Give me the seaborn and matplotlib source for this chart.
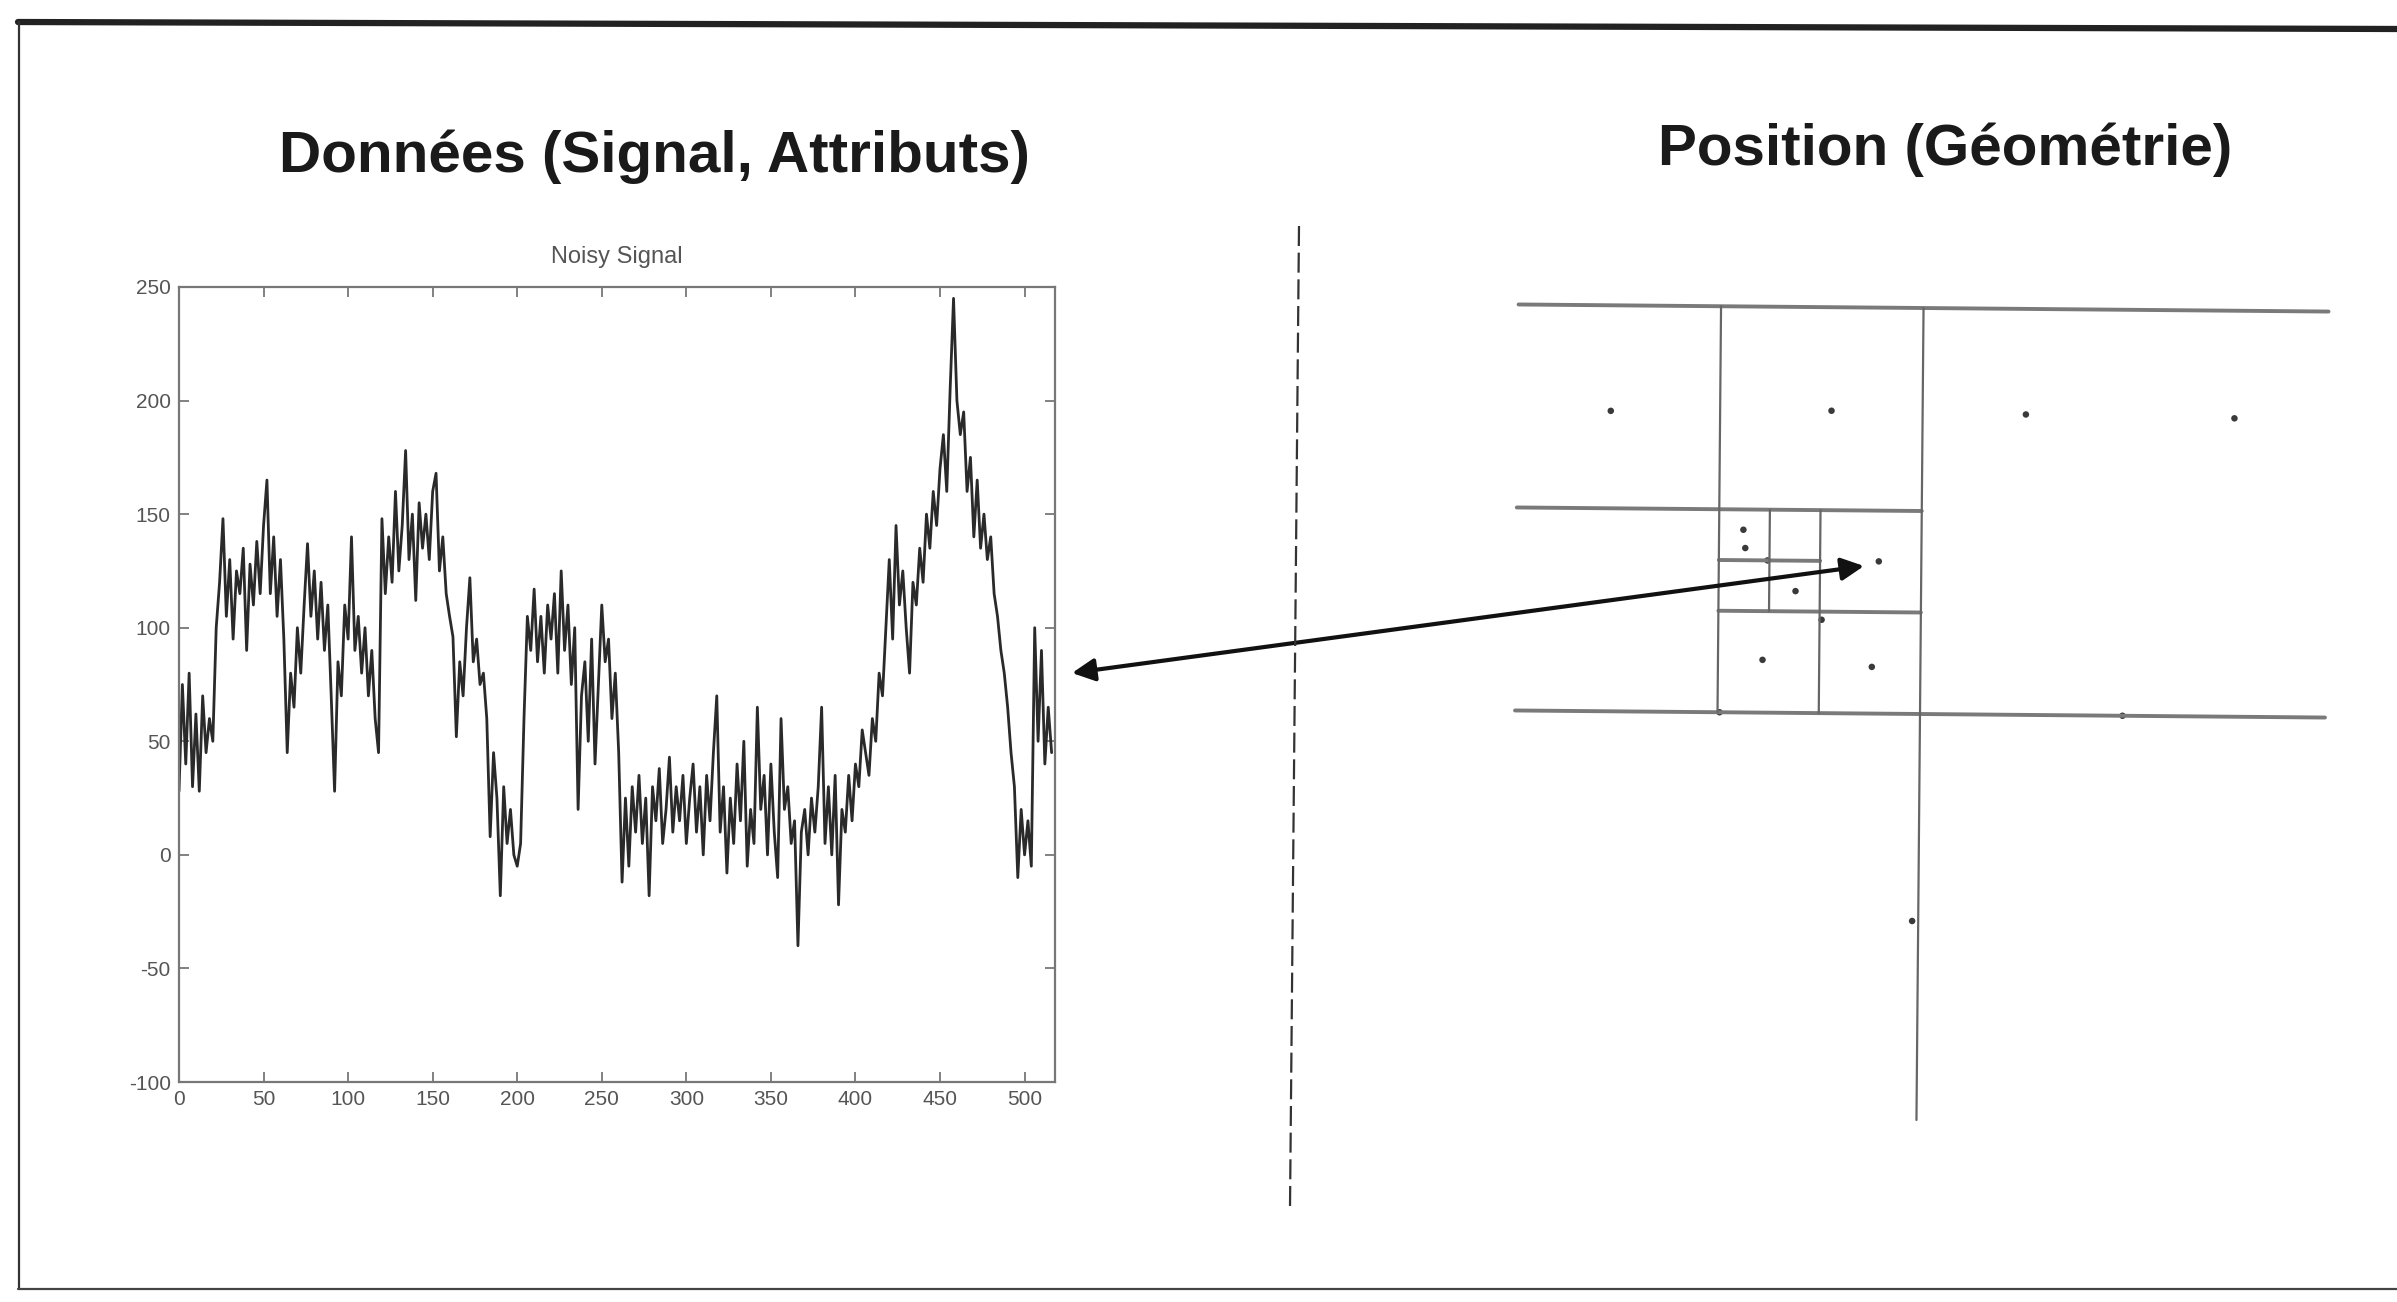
import numpy as np
import pandas as pd
import matplotlib
matplotlib.use("Agg")
import matplotlib.pyplot as plt
import seaborn as sns
from matplotlib.lines import Line2D
from matplotlib.patches import FancyArrowPatch
from matplotlib.transforms import Affine2D

# ---------------- data ----------------
title_left = "Données (Signal, Attributs)"
title_right = "Position (Géométrie)"
signal_title = "Noisy Signal"

# sample index (every 2nd sample of the noisy signal)
signal_x = list(range(0, 518, 2))
signal_y = [
    28, 75, 40, 80, 30, 62, 28, 70, 45, 60,
    50, 100, 120, 148, 105, 130, 95, 125, 115, 135,
    90, 128, 110, 138, 115, 145, 165, 115, 140, 105,
    130, 95, 45, 80, 65, 100, 80, 110, 137, 105,
    125, 95, 120, 90, 110, 70, 28, 85, 70, 110,
    95, 140, 90, 105, 80, 100, 70, 90, 60, 45,
    148, 115, 140, 120, 160, 125, 145, 178, 130, 150,
    112, 155, 135, 150, 130, 160, 168, 125, 140, 115,
    105, 96, 52, 85, 70, 100, 122, 85, 95, 75,
    80, 60, 8, 45, 25, -18, 30, 5, 20, 0,
    -5, 5, 60, 105, 90, 117, 85, 105, 80, 110,
    95, 115, 80, 125, 90, 110, 75, 100, 20, 70,
    85, 50, 95, 40, 75, 110, 85, 95, 60, 80,
    45, -12, 25, -5, 30, 10, 35, 5, 25, -18,
    30, 15, 38, 5, 20, 43, 10, 30, 15, 35,
    5, 25, 40, 10, 30, 0, 35, 15, 45, 70,
    10, 30, -8, 25, 5, 40, 15, 50, -5, 20,
    5, 65, 20, 35, 0, 40, 10, -10, 60, 20,
    30, 5, 15, -40, 10, 20, 0, 25, 10, 30,
    65, 5, 30, 0, 35, -22, 20, 10, 35, 15,
    40, 30, 55, 45, 35, 60, 50, 80, 70, 100,
    130, 95, 145, 110, 125, 100, 80, 120, 110, 135,
    120, 150, 135, 160, 145, 170, 185, 160, 205, 245,
    200, 185, 195, 160, 175, 140, 165, 135, 150, 130,
    140, 115, 105, 90, 80, 65, 45, 30, -10, 20,
    0, 15, -5, 100, 50, 90, 40, 65, 45,
]
x_ticks = [0, 50, 100, 150, 200, 250, 300, 350, 400, 450, 500]
y_ticks = [-100, -50, 0, 50, 100, 150, 200, 250]

# quadtree (in cell units of a 4 x 4 square, y downward)
qt_h_y = [0, 1, 2, 1.5, 1.25]
qt_h_x0 = [0, 0, 0, 1, 1]
qt_h_x1 = [4, 2, 4, 2, 1.5]
qt_v_x = [1, 2, 1.5, 1.25]
qt_v_y0 = [0, 0, 1, 1]
qt_v_y1 = [2, 4, 2, 1.5]
qt_pts_x = [0.46, 1.55, 2.51, 3.54, 1.12, 1.13, 1.24, 1.38, 1.79, 1.22, 1.76, 1.01, 1.51, 3.00, 1.97]
qt_pts_y = [0.52, 0.51, 0.52, 0.53, 1.10, 1.19, 1.25, 1.40, 1.25, 1.74, 1.77, 2.00, 1.54, 2.00, 3.02]

# ---------------- figure ----------------
sns.set_theme(style="white")
plt.rcParams["font.family"] = ["Liberation Sans", "DejaVu Sans"]
plt.rcParams["axes.unicode_minus"] = False

W, H = 2397, 1302
fig = plt.figure(figsize=(W / 100, H / 100), dpi=100)
fig.patch.set_facecolor("white")

def fx(px):
    return px / W

def fy(py):
    return 1 - py / H

# signal axes
ax = fig.add_axes([fx(179), fy(1082), fx(1055) - fx(179), fy(287) - fy(1082)])
df = pd.DataFrame({"x": signal_x, "y": signal_y})
sns.lineplot(data=df, x="x", y="y", ax=ax, color="#2a2a2a", linewidth=2.0,
             estimator=None, sort=False)
ax.set_xlim(0, 518)
ax.set_ylim(-100, 250)
ax.set_xticks(x_ticks)
ax.set_yticks(y_ticks)
ax.set_xlabel("")
ax.set_ylabel("")
ax.tick_params(direction="in", top=True, right=True, bottom=True, left=True,
               length=7, width=1.3, color="#777777", labelsize=15,
               labelcolor="#555555", pad=6)
for s in ax.spines.values():
    s.set_visible(True)
    s.set_color("#777777")
    s.set_linewidth(1.6)
ax.set_title(signal_title, fontsize=17, color="#555555", pad=17)

# quadtree axes
qx0, qx1 = 1515, 2325
qy0, qy1 = 308, 1120
qa = fig.add_axes([fx(qx0), fy(qy1), fx(qx1) - fx(qx0), fy(qy0) - fy(qy1)])
qa.set_xlim(0, 4)
qa.set_ylim(4, 0)
qa.axis("off")
cx, cy = qa.transData.transform((2, 2))
rot = qa.transData + Affine2D().rotate_deg_around(cx, cy, -0.5)
for y, a, b in zip(qt_h_y, qt_h_x0, qt_h_x1):
    qa.plot([a, b], [y, y], color="#7a7a7a", lw=2.8, transform=rot, clip_on=False)
for x, a, b in zip(qt_v_x, qt_v_y0, qt_v_y1):
    qa.plot([x, x], [a, b], color="#666666", lw=1.6, transform=rot, clip_on=False)
pts = pd.DataFrame({"x": qt_pts_x, "y": qt_pts_y})
sns.scatterplot(data=pts, x="x", y="y", ax=qa, color="#3a3a3a", s=22,
                edgecolor="none", transform=rot, clip_on=False)

# titles
fig.text(fx(654), fy(157), title_left, ha="center", va="center",
         fontsize=42, fontweight="bold", color="#1a1a1a")
fig.text(fx(1945), fy(150), title_right, ha="center", va="center",
         fontsize=42, fontweight="bold", color="#1a1a1a")

# dashed separator
fig.add_artist(Line2D([fx(1299), fx(1290)], [fy(226), fy(1208)],
                      transform=fig.transFigure, color="#333333", lw=1.6,
                      linestyle=(0, (9, 3))))

# double arrow
fig.add_artist(FancyArrowPatch((fx(1072), fy(673)), (fx(1864), fy(566)),
                               transform=fig.transFigure, arrowstyle="<|-|>",
                               mutation_scale=34, lw=3, color="#111111",
                               shrinkA=0, shrinkB=0))

# frame of the scanned page
fig.add_artist(Line2D([fx(18), fx(2397)], [fy(22), fy(29)], transform=fig.transFigure,
                      color="#222222", lw=4.5))
fig.add_artist(Line2D([fx(19), fx(19)], [fy(22), fy(1289)], transform=fig.transFigure,
                      color="#333333", lw=1.6))
fig.add_artist(Line2D([fx(18), fx(2397)], [fy(1289), fy(1289)], transform=fig.transFigure,
                      color="#444444", lw=1.6))

fig.savefig("out.png", dpi=100, facecolor="white")
